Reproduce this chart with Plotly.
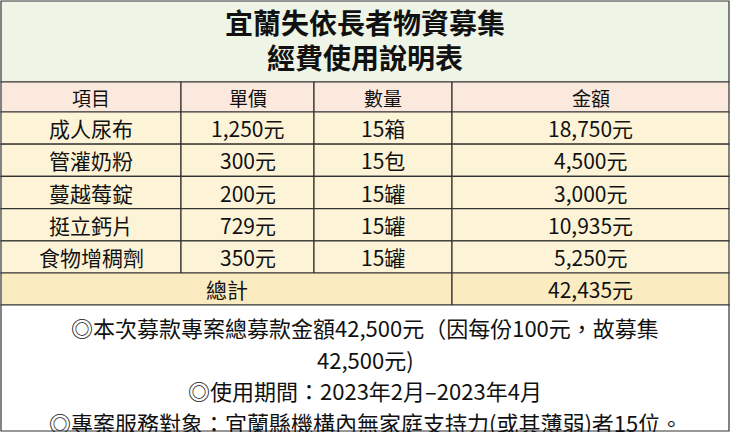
import plotly.graph_objects as go

title_lines = ["宜蘭失依長者物資募集", "經費使用說明表"]
headers = ["項目", "單價", "數量", "金額"]
items = ["成人尿布", "管灌奶粉", "蔓越莓錠", "挺立鈣片", "食物增稠劑"]
unit_prices = ["1,250元", "300元", "200元", "729元", "350元"]
quantities = ["15箱", "15包", "15罐", "15罐", "15罐"]
amounts = ["18,750元", "4,500元", "3,000元", "10,935元", "5,250元"]
total_label = "總計"
total_value = "42,435元"
notes = ["◎本次募款專案總募款金額42,500元（因每份100元，故募集",
         "42,500元)",
         "◎使用期間：2023年2月–2023年4月",
         "◎專案服務對象：宜蘭縣機構內無家庭支持力(或其薄弱)者15位。"]

W, H = 730, 432
cols = [1, 181, 314, 452, 729]
title_top, header_top, data_top, total_top, notes_top = 1, 82, 112, 273, 305
row_h = (total_top - data_top) / len(items)
FONT = "Noto Sans CJK TC"
line = dict(color="#333333", width=1.2)

fig = go.Figure()
shapes, ann = [], []

def rect(x0, y0, x1, y1, fill):
    shapes.append(dict(type="rect", xref="x", yref="y", x0=x0, y0=y0, x1=x1, y1=y1,
                       fillcolor=fill, line=line, layer="below"))

def text(x, y, s, size=20, bold=False):
    ann.append(dict(x=x, y=y, xref="x", yref="y", text=f"<b>{s}</b>" if bold else s,
                    showarrow=False, font=dict(family=FONT, size=size, color="#111111")))

rect(cols[0], title_top, cols[-1], header_top, "#eef4e6")
for i, t in enumerate(title_lines):
    text(W / 2, 22 + i * 35, t, size=28, bold=True)

for c, h in enumerate(headers):
    rect(cols[c], header_top, cols[c + 1], data_top, "#fbe9de")
    text((cols[c] + cols[c + 1]) / 2, (header_top + data_top) / 2, h, size=19)

for r in range(len(items)):
    y0 = data_top + r * row_h
    for c, v in enumerate([items[r], unit_prices[r], quantities[r], amounts[r]]):
        rect(cols[c], y0, cols[c + 1], y0 + row_h, "#fdf4d8")
        text((cols[c] + cols[c + 1]) / 2, y0 + row_h / 2, v, size=21)

rect(cols[0], total_top, cols[3], notes_top, "#fbebc0")
rect(cols[3], total_top, cols[4], notes_top, "#fbebc0")
text((cols[0] + cols[3]) / 2, (total_top + notes_top) / 2, total_label, size=21)
text((cols[3] + cols[4]) / 2, (total_top + notes_top) / 2, total_value, size=21)

rect(cols[0], notes_top, cols[-1], H - 1, "#ffffff")
for i, n in enumerate(notes):
    text(W / 2, 327 + i * 31.5, n, size=22)

fig.update_layout(width=W, height=H, margin=dict(l=0, r=0, t=0, b=0),
                  paper_bgcolor="white", plot_bgcolor="white",
                  shapes=shapes, annotations=ann, showlegend=False,
                  xaxis=dict(range=[0, W], visible=False, fixedrange=True),
                  yaxis=dict(range=[H, 0], visible=False, fixedrange=True))
fig.write_html("out.html", config={"displayModeBar": False},
               post_script="document.body.style.margin='0';document.body.style.overflow='hidden';")
